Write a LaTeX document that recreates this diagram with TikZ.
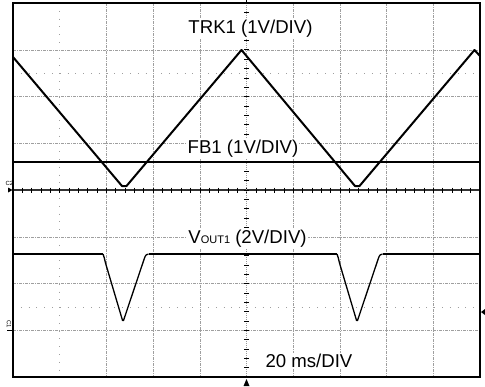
\documentclass[tikz,border=0pt]{standalone}
\usepackage{fontspec}
\setmainfont{Liberation Sans}
\tikzset{
  gridline/.style={gray!75, line width=0.5pt, dash pattern=on 3pt off 1pt on 1pt off 1pt},
  sparse/.style={gray!75, line width=0.6pt, dash pattern=on 0.8pt off 7pt},
  trace/.style={black, line width=2pt, line join=round},
  thintrace/.style={black, line width=1.3pt, line join=round},
  lbl/.style={fill=white, inner sep=1pt, font=\fontsize{18.6}{20}\selectfont, anchor=base},
  chlbl/.style={inner sep=0pt, font=\fontsize{6}{6}\selectfont},
  scopeframe/.style={black, line width=2.5pt},
  tickmark/.style={black, line width=0.6pt},
}
\begin{document}
\begin{tikzpicture}[x=1pt,y=-1pt]
\useasboundingbox (0,0) rectangle (485,386);
\fill[white] (0,0) rectangle (485,386);
% grid
\foreach \k in {2,3,4,6,7,8,9} \draw[gridline] ({13+46.7*\k},3) -- ({13+46.7*\k},377);
\draw[sparse] (59.7,3) -- (59.7,377);
\foreach \k in {1,2,3,5,6,7} \draw[gridline] (13,{3+46.75*\k}) -- (480,{3+46.75*\k});
\draw[sparse] (13,73.1) -- (480,73.1);
\draw[sparse] (13,306.9) -- (480,306.9);
% centre axes
\draw[black!80, line width=1.2pt] (13,190) -- (480,190);
\foreach \i in {1,...,49} \draw[tickmark] ({13+9.34*\i},187.5) -- ({13+9.34*\i},192.5);
\draw[gray!80, line width=0.5pt, dash pattern=on 1pt off 1pt] (246.5,3) -- (246.5,377);
\foreach \i in {1,...,39} \draw[tickmark] (244,{3+9.35*\i}) -- (249,{3+9.35*\i});
% TRK1 trace
\draw[trace] (13,57) -- (122,186) -- (126.5,186) -- (241.5,50) -- (355,186) -- (359.5,186) -- (474.5,50) -- (480,56);
% FB1 trace
\draw[trace] (13,162) -- (480,162);
% VOUT1 trace
\draw[trace] (13,254) -- (103,254);
\draw[thintrace, rounded corners=1.5pt] (103,254) .. controls (104,256) and (104.5,259) .. (105.5,263) -- (123,322) -- (144.5,258) .. controls (145.5,255.5) and (146.5,254) .. (148.5,254);
\draw[trace] (148.5,254) -- (337,254);
\draw[thintrace, rounded corners=1.5pt] (337,254) .. controls (338,256) and (338.5,259) .. (339.5,263) -- (357,322) -- (378.5,258) .. controls (379.5,255.5) and (380.5,254) .. (382.5,254);
\draw[trace] (382.5,254) -- (480,254);
% labels
\node[lbl] (trk) at (250.5,33) {TRK1 (1V/DIV)};
\node[lbl] (fb) at (243,153) {FB1 (1V/DIV)};
\node[lbl] (vout) at (247.5,243) {V\raisebox{-0.5pt}{\fontsize{11}{11}\selectfont OUT1} (2V/DIV)};
\node[lbl] (tdiv) at (309,367) {20 ms/DIV};
% frame
\draw[scopeframe] (13,3) rectangle (480,377);
% markers
\fill[black] (243.5,386) -- (246.5,379) -- (249.5,386) -- cycle;
\fill[black] (485,309) -- (481,312) -- (485,315) -- cycle;
\draw[black, line width=0.8pt] (246.5,0) -- (246.5,4);
\fill[black] (8,187.5) -- (12.5,190) -- (8,192.5) -- cycle;
\node[chlbl] (c2) at (9.5,183) {C2};
\node[chlbl, rotate=-90] (c1) at (9,324) {C1};
\draw[black, line width=0.8pt] (7,330) -- (12,330);
\end{tikzpicture}
\end{document}
